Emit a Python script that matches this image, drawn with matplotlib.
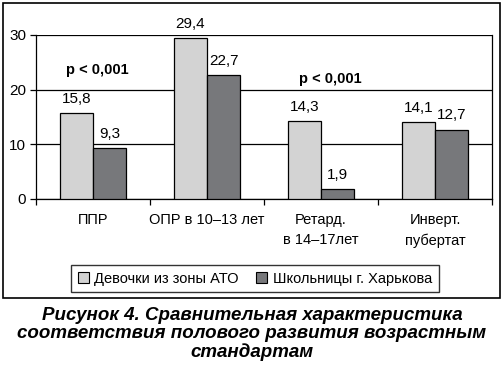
import matplotlib
matplotlib.use("Agg")
import matplotlib.pyplot as plt
import numpy as np
from matplotlib.patches import Rectangle, Patch

categories = ["ППР", "ОПР в 10–13 лет", "Ретард.\nв 14–17лет", "Инверт.\nпубертат"]
series_names = ["Девочки из зоны АТО", "Школьницы г. Харькова"]
ato = [15.8, 29.4, 14.3, 14.1]
kharkov = [9.3, 22.7, 1.9, 12.7]
ato_labels = ["15,8", "29,4", "14,3", "14,1"]
kharkov_labels = ["9,3", "22,7", "1,9", "12,7"]
yticks = [0, 10, 20, 30]
p_texts = ["p < 0,001", "p < 0,001"]

plt.rcParams['font.family'] = ['Liberation Sans', 'DejaVu Sans']

W, H = 504, 368
fig = plt.figure(figsize=(W/100, H/100), dpi=100)

# outer frame
fig.patches.append(Rectangle((3/W, 1-298/H), 497/W, 295/H, transform=fig.transFigure,
                             fill=False, edgecolor='black', linewidth=1.2))

ax = fig.add_axes([36/W, 1-199/H, 456/W, 164/H])
x = np.arange(len(categories))
bw = 0.29
light = '#d3d3d3'
dark = '#77787b'
ax.bar(x - bw/2, ato, bw, color=light, edgecolor='black', linewidth=0.9, zorder=3)
ax.bar(x + bw/2, kharkov, bw, color=dark, edgecolor='black', linewidth=0.9, zorder=3)

for i in range(len(categories)):
    ax.text(x[i] - bw/2, ato[i] + 1.3, ato_labels[i], ha='center', va='bottom', fontsize=11)
    ax.text(x[i] + bw/2, kharkov[i] + 1.3, kharkov_labels[i], ha='center', va='bottom', fontsize=11)

ax.text(0.04, 23.6, p_texts[0], ha='center', va='center', fontsize=10.5, fontweight='bold')
ax.text(2.08, 21.9, p_texts[1], ha='center', va='center', fontsize=10.5, fontweight='bold')

ax.set_xlim(-0.5, 3.5)
ax.set_ylim(0, 30)
ax.set_yticks(yticks)
ax.set_yticklabels([str(v) for v in yticks], fontsize=11)
ax.yaxis.grid(True, color='black', linewidth=0.9, zorder=0)
ax.set_axisbelow(True)
ax.spines['top'].set_visible(False)
for s in ('left', 'right', 'bottom'):
    ax.spines[s].set_linewidth(0.9)
ax.tick_params(axis='y', direction='out', length=4, width=0.9, pad=3)

# x ticks between categories
ax.set_xticks(np.arange(-0.5, 4.0, 1.0))
ax.set_xticklabels([])
ax.tick_params(axis='x', direction='out', length=4, width=0.9)
for i, c in enumerate(categories):
    ax.text(x[i], -2.6, c, ha='center', va='top', fontsize=10.5, linespacing=1.55)

handles = [Patch(facecolor=light, edgecolor='black', linewidth=0.8),
           Patch(facecolor=dark, edgecolor='black', linewidth=0.8)]
leg = fig.legend(handles, series_names, loc='center', bbox_to_anchor=(255/W, 1-278.5/H),
                 ncol=2, fontsize=10.5, frameon=True, fancybox=False, edgecolor='black',
                 handlelength=0.75, handleheight=0.75, handletextpad=0.4, columnspacing=1.2,
                 borderpad=0.45, borderaxespad=0)
leg.get_frame().set_linewidth(1.0)

caption = "Рисунок 4. Сравнительная характеристика\nсоответствия полового развития возрастным\nстандартам"
fig.text(252/W, 1-334/H, caption, ha='center', va='center', fontsize=13.5,
         fontweight='bold', fontstyle='italic', linespacing=1.08)

fig.savefig("out.png", dpi=100)
